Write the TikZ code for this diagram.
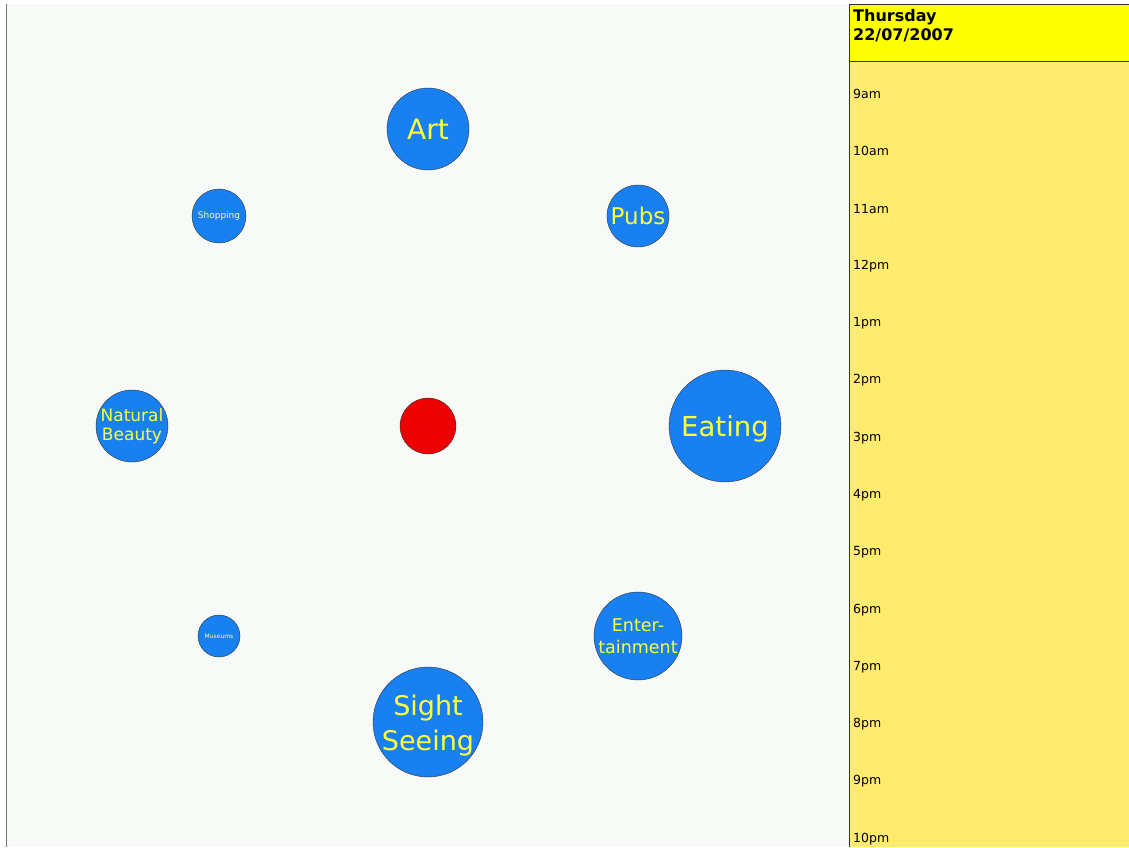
\documentclass[tikz,border=0pt]{standalone}
\usepackage{fontspec}
\setmainfont{DejaVu Sans}
\usetikzlibrary{positioning}
\definecolor{PanelWhite}{RGB}{248,250,248}
\definecolor{EdgeGray}{RGB}{120,120,110}
\definecolor{TopicBlue}{RGB}{24,128,240}
\definecolor{TopicText}{RGB}{255,255,60}
\definecolor{CentreRed}{RGB}{236,0,0}
\definecolor{HeadYellow}{RGB}{255,255,0}
\definecolor{DayYellow}{RGB}{255,236,110}
\tikzset{
  topic/.style={circle,draw=black!80,fill=TopicBlue,text=TopicText,inner sep=0pt,align=center},
  lowtext/.style={label={[text=TopicText,align=center,yshift=-4pt,font=#1]center:}},
  centre/.style={circle,draw=black!80,fill=CentreRed,inner sep=0pt,minimum size=56pt},
  hour/.style={anchor=west,inner sep=0pt,font=\fontsize{12.5}{12.5}\selectfont}
}

\begin{document}
\begin{tikzpicture}[x=1pt,y=-1pt]
\useasboundingbox (0,0) rectangle (1129,847);
\fill[white] (0,0) rectangle (1129,847);
\fill[PanelWhite] (6,4) rectangle (849,847);
\draw[EdgeGray,line width=1.2pt] (6.5,4) -- (6.5,847);
\fill[DayYellow] (849,61) rectangle (1129,847);
\draw[fill=HeadYellow,draw=black!80] (849.5,4.5) rectangle (1130,61);
\draw[black!80,line width=1pt] (849.5,4.5) -- (849.5,847);

\node[anchor=north west,align=left,inner sep=0pt,font=\bfseries\fontsize{16}{19}\selectfont] (day) at (853,9) {Thursday\\22/07/2007};

% topics round the centre
\node[centre] (me) at (428,426) {};
\node[topic,minimum size=82pt,font=\fontsize{28}{28}\selectfont] (art) at (428,129) {Art};
\node[topic,minimum size=54pt,font=\fontsize{9}{9}\selectfont,text=yellow!30] (shop) at (219,216) {Shopping};
\node[topic,minimum size=62pt,font=\fontsize{23}{23}\selectfont] (pubs) at (638,216) {Pubs};
\node[topic,minimum size=70pt,font=\fontsize{17}{19}\selectfont] (nature) at (132,426) {Natural\\Beauty};
\node[topic,minimum size=112pt,label={[text=TopicText,yshift=-3pt,font=\fontsize{27.5}{27.5}\selectfont]center:Eating}] (eat) at (725,426) {};
\node[topic,minimum size=42pt,font=\fontsize{6}{6}\selectfont,text=yellow!30] (museum) at (219,636) {Museums};
\node[topic,minimum size=88pt,font=\fontsize{17.5}{22}\selectfont] (fun) at (638,636) {Enter-\\tainment};
\node[topic,minimum size=110pt,label={[text=TopicText,align=center,yshift=-4pt,font=\fontsize{27}{35}\selectfont]center:Sight\\Seeing}] (sight) at (428,722) {};

% hours of the day
\foreach \t [count=\i from 0] in {9am,10am,11am,12pm,1pm,2pm,3pm,4pm,5pm,6pm,7pm,8pm,9pm,10pm}
  \node[hour] (h\i) at (853,{94+57.3*\i}) {\t};
\end{tikzpicture}
\end{document}
